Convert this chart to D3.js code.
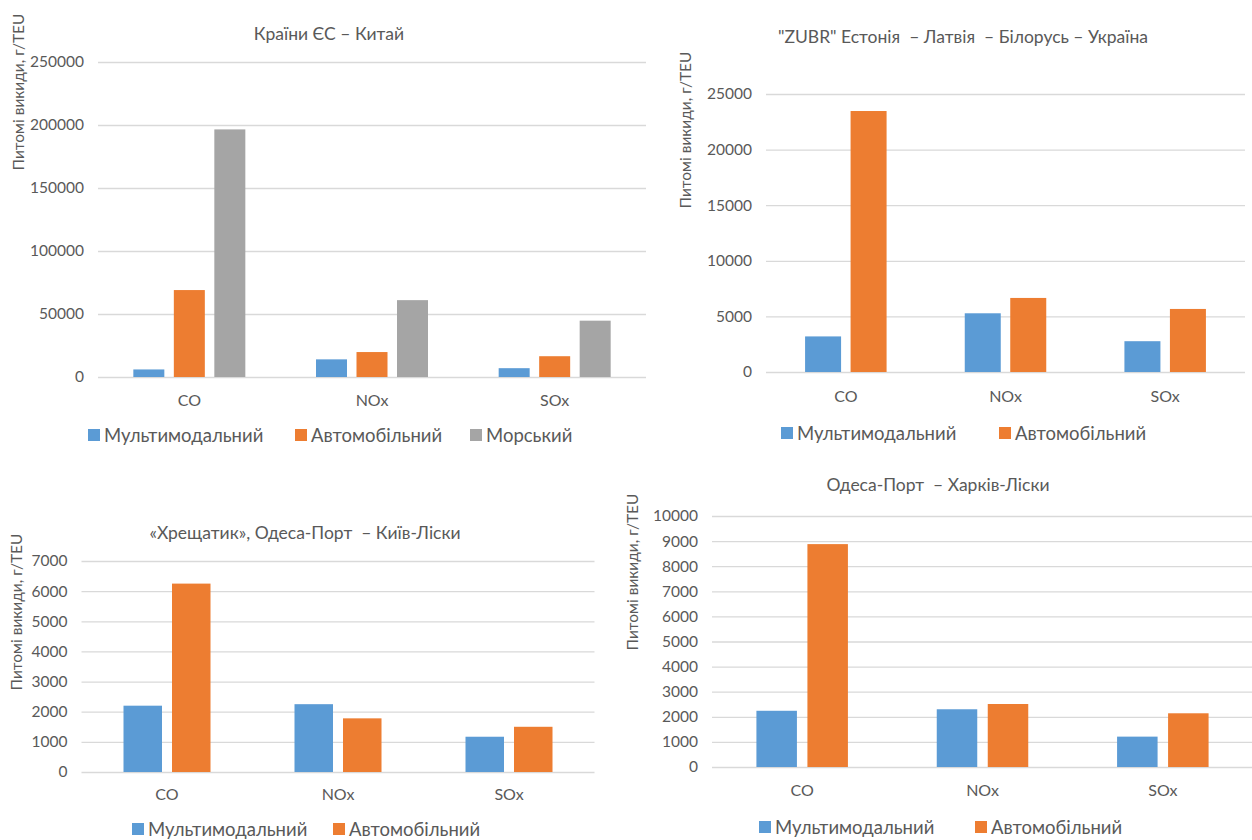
<!DOCTYPE html>
<html>
<head>
<meta charset="utf-8">
<script src="https://cdn.jsdelivr.net/npm/d3@7"></script>
<style>
  body { margin: 0; background: #fff; }
  svg { display: block; font-family: Lato, "Open Sans", sans-serif; }
</style>
</head>
<body>
<svg id="chart" width="1252" height="840"></svg>
<script>
// data
const pollutants = ["CO", "NOx", "SOx"];
const seriesNames3 = ["Мультимодальний", "Автомобільний", "Морський"];
const seriesNames2 = ["Мультимодальний", "Автомобільний"];

// Країни ЄС – Китай
const euChinaMulti = [6000, 14000, 7000];
const euChinaAuto = [69000, 19800, 16500];
const euChinaSea = [196500, 61000, 44700];
const euChinaTicks = [0, 50000, 100000, 150000, 200000, 250000];

// "ZUBR"
const zubrMulti = [3200, 5280, 2770];
const zubrAuto = [23470, 6660, 5670];
const zubrTicks = [0, 5000, 10000, 15000, 20000, 25000];

// «Хрещатик»
const khreshMulti = [2200, 2250, 1170];
const khreshAuto = [6250, 1780, 1500];
const khreshTicks = [0, 1000, 2000, 3000, 4000, 5000, 6000, 7000];

// Одеса-Порт – Харків-Ліски
const kharkivMulti = [2240, 2300, 1210];
const kharkivAuto = [8880, 2510, 2140];
const kharkivTicks = [0, 1000, 2000, 3000, 4000, 5000, 6000, 7000, 8000, 9000, 10000];

const colors = ["#5B9BD5", "#ED7D31", "#A5A5A5"];
const textColor = "#595959";
const gridColor = "#D9D9D9";

const svg = d3.select("#chart");

function drawChart(cfg) {
    const g = svg.append("g");

    const x0 = d3.scaleBand()
                 .domain(pollutants)
                 .range([cfg.left, cfg.right]);

    const y = d3.scaleLinear()
                .domain([0, d3.max(cfg.ticks)])
                .range([cfg.bottom, cfg.top]);

    const names = cfg.names;
    const groupW = names.length * cfg.barW + (names.length - 1) * cfg.gap;
    const x1 = d3.scaleBand()
                 .domain(names)
                 .range([-groupW / 2, groupW / 2])
                 .paddingInner(cfg.gap / (cfg.barW + cfg.gap));

    // gridlines
    const yAxis = d3.axisLeft(y)
                    .tickValues(cfg.ticks)
                    .tickSize(-(cfg.right - cfg.left))
                    .tickPadding(cfg.tickPad)
                    .tickFormat(d3.format("d"));

    const ax = g.append("g")
                .attr("transform", `translate(${cfg.left},0)`)
                .call(yAxis);
    ax.select(".domain").remove();
    ax.selectAll(".tick line")
      .attr("stroke", gridColor)
      .attr("stroke-width", 1.3);
    ax.selectAll(".tick text")
      .attr("fill", textColor)
      .attr("font-size", 15.5)
      .attr("font-family", "Lato, sans-serif");

    // bars
    const rows = pollutants.map((p, i) => ({
        cat: p,
        vals: names.map((n, j) => ({ name: n, value: cfg.series[j][i], idx: j }))
    }));

    g.selectAll("g.cat")
     .data(rows)
     .enter()
     .append("g")
     .attr("class", "cat")
     .attr("transform", (d) => `translate(${x0(d.cat) + x0.bandwidth() / 2},0)`)
     .selectAll("rect")
     .data((d) => d.vals)
     .enter()
     .append("rect")
     .attr("x", (d) => x1(d.name))
     .attr("width", x1.bandwidth())
     .attr("y", (d) => y(d.value))
     .attr("height", (d) => y(0) - y(d.value))
     .attr("fill", (d) => colors[d.idx]);

    // category labels
    const xAxis = d3.axisBottom(x0).tickSize(0).tickPadding(0);
    const xa = g.append("g")
                .attr("transform", `translate(0,${cfg.catY})`)
                .call(xAxis);
    xa.select(".domain").remove();
    xa.selectAll(".tick text")
      .attr("fill", textColor)
      .attr("font-size", 16)
      .attr("font-family", "Lato, sans-serif")
      .attr("dy", "0.35em");

    // title
    g.append("text")
     .attr("x", cfg.titleX)
     .attr("y", cfg.titleY)
     .attr("text-anchor", "middle")
     .attr("dominant-baseline", "central")
     .attr("fill", textColor)
     .attr("font-size", 17.5)
     .style("white-space", "pre")
     .text(cfg.title);

    // y axis title
    g.append("text")
     .attr("transform", `translate(${cfg.yLabX},${cfg.yLabY}) rotate(-90)`)
     .attr("text-anchor", "middle")
     .attr("dominant-baseline", "central")
     .attr("fill", textColor)
     .attr("font-size", 15.5)
     .text("Питомі викиди, г/TEU");

    // legend
    const leg = g.append("g");
    names.forEach((n, j) => {
        leg.append("rect")
           .attr("x", cfg.legX[j])
           .attr("y", cfg.legY - 6)
           .attr("width", 12)
           .attr("height", 12)
           .attr("fill", colors[j]);
        leg.append("text")
           .attr("x", cfg.legX[j] + 16)
           .attr("y", cfg.legY)
           .attr("dominant-baseline", "central")
           .attr("fill", textColor)
           .attr("font-size", 18.5)
           .text(n);
    });
}

drawChart({
    title: "Країни ЄС – Китай",
    titleX: 329, titleY: 33,
    names: seriesNames3,
    series: [euChinaMulti, euChinaAuto, euChinaSea],
    ticks: euChinaTicks,
    left: 98, right: 646, top: 62, bottom: 377,
    barW: 31, gap: 9.5, tickPad: 14,
    catY: 400,
    yLabX: 18, yLabY: 92,
    legX: [88, 295, 470], legY: 435
});

drawChart({
    title: "\"ZUBR\" Естонія  – Латвія  – Білорусь – Україна",
    titleX: 963, titleY: 36,
    names: seriesNames2,
    series: [zubrMulti, zubrAuto],
    ticks: zubrTicks,
    left: 766, right: 1245, top: 94, bottom: 372,
    barW: 36, gap: 9.5, tickPad: 14,
    catY: 396,
    yLabX: 685, yLabY: 130,
    legX: [781, 999], legY: 433
});

drawChart({
    title: "«Хрещатик», Одеса-Порт  – Київ-Ліски",
    titleX: 305, titleY: 532,
    names: seriesNames2,
    series: [khreshMulti, khreshAuto],
    ticks: khreshTicks,
    left: 81.5, right: 594.5, top: 561, bottom: 772,
    barW: 38.5, gap: 10, tickPad: 14,
    catY: 794,
    yLabX: 16, yLabY: 612,
    legX: [132, 333], legY: 829
});

drawChart({
    title: "Одеса-Порт  – Харків-Ліски",
    titleX: 938, titleY: 484,
    names: seriesNames2,
    series: [kharkivMulti, kharkivAuto],
    ticks: kharkivTicks,
    left: 712, right: 1253, top: 516, bottom: 767,
    barW: 40.5, gap: 10.5, tickPad: 14,
    catY: 790,
    yLabX: 632, yLabY: 572,
    legX: [759, 975], legY: 827
});
</script>
</body>
</html>
